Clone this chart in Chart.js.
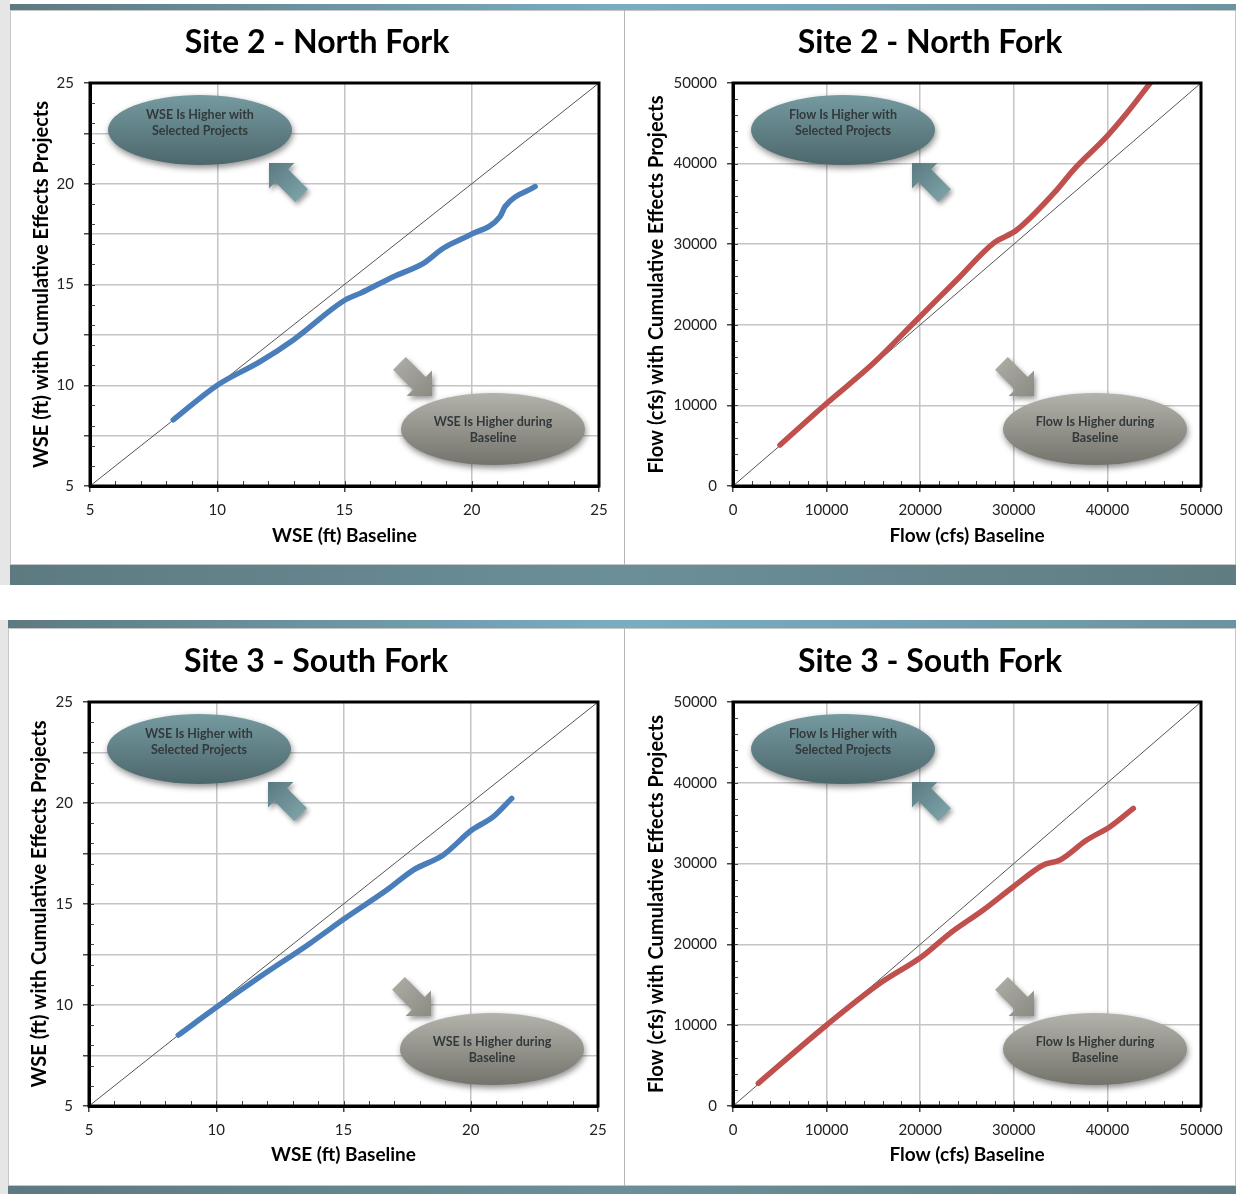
<!DOCTYPE html>
<html>
<head>
<meta charset="utf-8">
<script src="https://cdn.jsdelivr.net/npm/chart.js@4.4.0/dist/chart.umd.min.js"></script>
<style>
  body { margin: 0; width: 1236px; height: 1194px; position: relative; background: #fff; overflow: hidden; }
  .strip { position: absolute; left: 0; background: #e6e6e6; }
  .bar { position: absolute; right: 0; }
  .light { background: linear-gradient(90deg, #5e7a81 0%, #79adc2 50%, #6b93a0 100%); }
  .dark { background: linear-gradient(90deg, #5d7a81 0%, #6b8f99 50%, #5f7c82 100%); }
  .panel { position: absolute; right: 0; background: #fff; border: 1px solid #c6c6c6; box-sizing: border-box; }
  .divider { position: absolute; left: 624px; width: 1px; background: #b6b6b6; }
  canvas { position: absolute; }
</style>
</head>
<body>
<div class="strip" style="top:0;height:585px;width:10px"></div>
<div class="bar light" style="left:10px;top:4px;height:6px"></div>
<div class="panel" style="left:10px;top:10px;height:555px"></div>
<div class="divider" style="top:10px;height:555px"></div>
<div class="bar dark" style="left:10px;top:565px;height:20px"></div>

<div class="strip" style="top:620px;height:574px;width:8px"></div>
<div class="bar light" style="left:8px;top:620px;height:8px"></div>
<div class="panel" style="left:8px;top:628px;height:558px"></div>
<div class="divider" style="top:628px;height:558px"></div>
<div class="bar dark" style="left:8px;top:1186px;height:8px"></div>

<canvas id="c1" width="614" height="555" style="left:10px;top:10px"></canvas>
<canvas id="c2" width="612" height="555" style="left:624px;top:10px"></canvas>
<canvas id="c3" width="616" height="558" style="left:8px;top:628px"></canvas>
<canvas id="c4" width="612" height="558" style="left:624px;top:628px"></canvas>

<script>
// values
const site2WseBaseline = [8.27, 10.0, 11.68, 12.99, 15.02, 15.61, 16.92, 18.10, 18.88, 19.93, 21.11, 21.31, 22.49];
const site2WseProjects = [8.28, 10.0, 11.17, 12.25, 14.23, 14.56, 15.39, 16.05, 16.80, 17.46, 18.37, 18.87, 19.86];

const site2FlowBaseline = [5021, 10010, 14990, 19620, 23900, 27810, 30310, 34580, 36360, 39920, 42060, 44550];
const site2FlowProjects = [5087, 10260, 15220, 20600, 25560, 30110, 31760, 36720, 39200, 43340, 46240, 49960];

const site3WseBaseline = [8.51, 10.02, 11.72, 13.68, 15.06, 16.70, 17.74, 18.92, 20.04, 20.89, 21.61];
const site3WseProjects = [8.51, 9.90, 11.40, 13.05, 14.29, 15.69, 16.68, 17.43, 18.66, 19.32, 20.23];

const site3FlowBaseline = [2700, 10010, 15700, 20160, 23180, 26740, 29950, 33150, 34940, 37790, 40280, 42770];
const site3FlowProjects = [2810, 10025, 15185, 18480, 21370, 24260, 27140, 29830, 30450, 32920, 34570, 36840];

const wseRange = [5, 25];
const flowRange = [0, 50000];

const wseText = {
  upper: ["WSE Is Higher with", "Selected Projects"],
  lower: ["WSE Is Higher during", "Baseline"]
};
const flowText = {
  upper: ["Flow Is Higher with", "Selected Projects"],
  lower: ["Flow Is Higher during", "Baseline"]
};

const FONT = "Lato";

function pairs(xs, ys) {
  return xs.map((x, i) => ({ x: x, y: ys[i] }));
}

function drawArrow(ctx, tx, ty, dir, c1, c2) {
  // dir: unit vector pointing toward the tip
  const ux = -dir[0], uy = -dir[1];
  const vx = -uy, vy = ux;
  const H = 18, W = 18, w = 9, L = 46;
  const pts = [[0, 0], [H, W], [H, w], [L, w], [L, -w], [H, -w], [H, -W]];
  ctx.save();
  ctx.shadowColor = "rgba(0,0,0,0.4)";
  ctx.shadowBlur = 5;
  ctx.shadowOffsetX = 2;
  ctx.shadowOffsetY = 3;
  const g = ctx.createLinearGradient(tx, ty, tx + ux * L, ty + uy * L);
  g.addColorStop(0, c1);
  g.addColorStop(1, c2);
  ctx.fillStyle = g;
  ctx.beginPath();
  pts.forEach((p, i) => {
    const px = tx + ux * p[0] + vx * p[1];
    const py = ty + uy * p[0] + vy * p[1];
    if (i === 0) ctx.moveTo(px, py); else ctx.lineTo(px, py);
  });
  ctx.closePath();
  ctx.fill();
  ctx.restore();
}

function drawBubble(ctx, cx, cy, rx, ry, top, bottom, lines, textY) {
  ctx.save();
  ctx.shadowColor = "rgba(0,0,0,0.45)";
  ctx.shadowBlur = 6;
  ctx.shadowOffsetX = 1;
  ctx.shadowOffsetY = 3;
  const g = ctx.createLinearGradient(0, cy - ry, 0, cy + ry);
  g.addColorStop(0, top);
  g.addColorStop(1, bottom);
  ctx.fillStyle = g;
  ctx.beginPath();
  ctx.ellipse(cx, cy, rx, ry, 0, 0, Math.PI * 2);
  ctx.fill();
  ctx.restore();
  ctx.save();
  ctx.fillStyle = "#33393b";
  ctx.font = "bold 12.5px " + FONT;
  ctx.textAlign = "center";
  ctx.textBaseline = "middle";
  ctx.fillText(lines[0], cx, cy + textY);
  ctx.fillText(lines[1], cx, cy + textY + 16);
  ctx.restore();
}

const decor = {
  id: "decor",
  beforeDraw(chart, args, opts) {
    const ctx = chart.ctx;
    ctx.save();
    ctx.fillStyle = "#000";
    ctx.font = "bold 32px " + FONT;
    ctx.textAlign = "center";
    ctx.textBaseline = "middle";
    ctx.fillText(opts.title, chart.width / 2, opts.titleY);
    ctx.restore();
  },
  afterDatasetsDraw(chart, args, opts) {
    const { ctx, chartArea: a } = chart;
    const xs = chart.scales.x, ys = chart.scales.y;
    ctx.save();
    ctx.strokeStyle = "#444";
    ctx.lineWidth = 1;
    for (let v = xs.min; v <= xs.max; v += opts.minor) {
      const px = Math.round(xs.getPixelForValue(v)) + 0.5;
      ctx.beginPath();
      ctx.moveTo(px, a.bottom);
      ctx.lineTo(px, a.bottom - 5);
      ctx.stroke();
    }
    for (let v = ys.min; v <= ys.max; v += opts.minor) {
      const py = Math.round(ys.getPixelForValue(v)) + 0.5;
      ctx.beginPath();
      ctx.moveTo(a.left, py);
      ctx.lineTo(a.left + 5, py);
      ctx.stroke();
    }
    ctx.strokeStyle = "#000";
    ctx.lineWidth = 3;
    ctx.strokeRect(a.left, a.top, a.right - a.left, a.bottom - a.top);
    ctx.restore();
  },
  afterDraw(chart, args, opts) {
    const { ctx, chartArea: a } = chart;
    drawArrow(ctx, a.left + 179, a.top + 80, [-Math.SQRT1_2, -Math.SQRT1_2], "#5a7a80", "#7aa0a6");
    drawBubble(ctx, a.left + 110, a.top + 47, 92, 35, "#759aa0", "#4c676c", opts.text.upper, -15);
    drawArrow(ctx, a.right - 167, a.bottom - 90, [Math.SQRT1_2, Math.SQRT1_2], "#8b8b83", "#a9a9a2");
    drawBubble(ctx, a.right - 106, a.bottom - 57, 92, 36, "#b3b3ab", "#74746c", opts.text.lower, -7);
  }
};

function buildChart(id, cfg) {
  const canvas = document.getElementById(id);
  const axisLh = 22.8;
  return new Chart(canvas, {
    type: "scatter",
    data: {
      datasets: [
        {
          data: cfg.points,
          showLine: true,
          borderColor: cfg.color,
          borderWidth: 5.5,
          pointRadius: 0,
          cubicInterpolationMode: "monotone",
          borderCapStyle: "round",
          borderJoinStyle: "round",
          order: 1
        },
        {
          data: pairs(cfg.range, cfg.range),
          showLine: true,
          borderColor: "#555",
          borderWidth: 1,
          pointRadius: 0,
          order: 2
        }
      ]
    },
    options: {
      responsive: false,
      animation: false,
      layout: { padding: { left: 0, top: cfg.top, bottom: 0, right: canvas.width - cfg.right } },
      plugins: {
        legend: { display: false },
        tooltip: { enabled: false },
        title: { display: false },
        decor: { minor: cfg.minor, text: cfg.text, title: cfg.title, titleY: cfg.titleY }
      },
      scales: {
        x: {
          type: "linear",
          min: cfg.range[0],
          max: cfg.range[1],
          afterFit: (s) => { s.height = canvas.height - cfg.bottom; },
          ticks: {
            stepSize: cfg.xStep,
            color: "#222",
            padding: 9,
            font: { family: FONT, size: 15 },
            callback: (v) => String(v)
          },
          grid: { color: "#c4c4c4", lineWidth: 1.5, tickLength: 6, tickColor: "#444" },
          border: { display: true, color: "#000", width: 3 },
          title: {
            display: true,
            text: cfg.xTitle,
            color: "#000",
            font: { family: FONT, size: 19, weight: "bold", lineHeight: 1.2 },
            padding: { top: 0, bottom: canvas.height - cfg.xTitleY - axisLh / 2 }
          }
        },
        y: {
          type: "linear",
          min: cfg.range[0],
          max: cfg.range[1],
          afterFit: (s) => { s.width = cfg.left; },
          ticks: {
            stepSize: cfg.yStep,
            color: "#222",
            padding: 10,
            font: { family: FONT, size: 15 },
            callback: (v) => (v % cfg.xStep === 0 ? String(v) : "")
          },
          grid: { color: "#c4c4c4", lineWidth: 1.5, tickLength: 6, tickColor: "#444" },
          border: { display: true, color: "#000", width: 3 },
          title: {
            display: true,
            text: cfg.yTitle,
            color: "#000",
            font: { family: FONT, size: 20, weight: "bold", lineHeight: 1.2 },
            padding: { top: cfg.yTitleX - 12, bottom: 0 }
          }
        }
      }
    },
    plugins: [decor]
  });
}

function render() {
  buildChart("c1", {
    title: "Site 2 - North Fork", titleY: 33, top: 73, bottom: 476, left: 80, right: 589,
    xTitleY: 526, yTitleX: 32,
    xTitle: "WSE (ft) Baseline", yTitle: "WSE (ft) with Cumulative Effects Projects",
    range: wseRange, xStep: 5, yStep: 2.5, minor: 1,
    points: pairs(site2WseBaseline, site2WseProjects), color: "#4a7ebb", text: wseText
  });
  buildChart("c2", {
    title: "Site 2 - North Fork", titleY: 33, top: 73, bottom: 476, left: 109, right: 577,
    xTitleY: 526, yTitleX: 33,
    xTitle: "Flow (cfs) Baseline", yTitle: "Flow (cfs) with Cumulative Effects Projects",
    range: flowRange, xStep: 10000, yStep: 10000, minor: 2000,
    points: pairs(site2FlowBaseline, site2FlowProjects), color: "#c0504d", text: flowText
  });
  buildChart("c3", {
    title: "Site 3 - South Fork", titleY: 34, top: 74, bottom: 478, left: 81, right: 590,
    xTitleY: 527, yTitleX: 32,
    xTitle: "WSE (ft) Baseline", yTitle: "WSE (ft) with Cumulative Effects Projects",
    range: wseRange, xStep: 5, yStep: 2.5, minor: 1,
    points: pairs(site3WseBaseline, site3WseProjects), color: "#4a7ebb", text: wseText
  });
  buildChart("c4", {
    title: "Site 3 - South Fork", titleY: 34, top: 74, bottom: 478, left: 109, right: 577,
    xTitleY: 527, yTitleX: 33,
    xTitle: "Flow (cfs) Baseline", yTitle: "Flow (cfs) with Cumulative Effects Projects",
    range: flowRange, xStep: 10000, yStep: 10000, minor: 2000,
    points: pairs(site3FlowBaseline, site3FlowProjects), color: "#c0504d", text: flowText
  });
}

if (document.fonts && document.fonts.load) {
  Promise.all([
    document.fonts.load("bold 32px " + FONT),
    document.fonts.load("15px " + FONT)
  ]).then(render, render);
} else {
  render();
}
</script>
</body>
</html>
